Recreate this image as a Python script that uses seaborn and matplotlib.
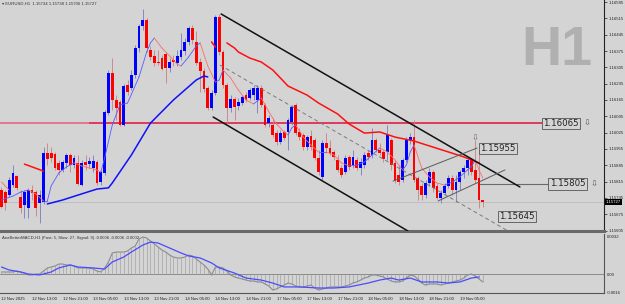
import numpy as np
import pandas as pd
import seaborn as sns
import matplotlib.pyplot as plt

# EURUSD H1 candles, 12 Nov 05:00 .. 19 Nov 11:00 (open, high, low, close)
opens = [1.15779, 1.15770, 1.15757, 1.15800, 1.15839, 1.15749, 1.15715, 1.15702, 1.15779, 1.15770,
         1.15723, 1.15727, 1.15938, 1.15938, 1.15933, 1.15895, 1.15865, 1.15895, 1.15929, 1.15886,
         1.15895, 1.15800, 1.15899, 1.15890, 1.15873, 1.15899, 1.15813, 1.15852, 1.16109, 1.16281,
         1.16165, 1.16156, 1.16058, 1.16229, 1.16216, 1.16272, 1.16388, 1.16482, 1.16508, 1.16380,
         1.16354, 1.16328, 1.16345, 1.16362, 1.16302, 1.16337, 1.16324, 1.16350, 1.16375, 1.16414,
         1.16474, 1.16414, 1.16328, 1.16289, 1.16216, 1.16131, 1.16195, 1.16521, 1.16371, 1.16229,
         1.16131, 1.16169, 1.16139, 1.16152, 1.16186, 1.16174, 1.16186, 1.16165, 1.16216, 1.16144,
         1.16066, 1.16058, 1.16023, 1.15985, 1.16028, 1.16028, 1.16071, 1.16144, 1.16028, 1.16015,
         1.15963, 1.16011, 1.15993, 1.15916, 1.15835, 1.15981, 1.15959, 1.15942, 1.15908, 1.15873,
         1.15856, 1.15921, 1.15886, 1.15908, 1.15873, 1.15886, 1.15938, 1.15929, 1.15993, 1.15951,
         1.15942, 1.15942, 1.15993, 1.15895, 1.15843, 1.15822, 1.15908, 1.15993, 1.16006, 1.15830,
         1.15796, 1.15757, 1.15809, 1.15856, 1.15796, 1.15745, 1.15766, 1.15796, 1.15830, 1.15779,
         1.15813, 1.15856, 1.15873, 1.15908, 1.15865, 1.15830, 1.15734]
highs = [1.15792, 1.15779, 1.15835, 1.15886, 1.15843, 1.15779, 1.15779, 1.15788, 1.15800, 1.15779,
         1.15779, 1.15963, 1.15981, 1.15963, 1.15942, 1.15908, 1.15908, 1.15938, 1.15938, 1.15929,
         1.15929, 1.15908, 1.15929, 1.15921, 1.15929, 1.15908, 1.15865, 1.16122, 1.16294, 1.16345,
         1.16186, 1.16165, 1.16234, 1.16251, 1.16294, 1.16401, 1.16491, 1.16555, 1.16517, 1.16397,
         1.16380, 1.16380, 1.16358, 1.16371, 1.16345, 1.16358, 1.16380, 1.16452, 1.16431, 1.16482,
         1.16487, 1.16461, 1.16345, 1.16302, 1.16225, 1.16208, 1.16530, 1.16534, 1.16380, 1.16238,
         1.16186, 1.16178, 1.16174, 1.16186, 1.16199, 1.16216, 1.16229, 1.16229, 1.16229, 1.16152,
         1.16101, 1.16088, 1.16036, 1.16036, 1.16036, 1.16088, 1.16144, 1.16152, 1.16045, 1.16023,
         1.16015, 1.16036, 1.16002, 1.15951, 1.15993, 1.16023, 1.15993, 1.15951, 1.15929, 1.15886,
         1.15929, 1.15929, 1.15951, 1.15921, 1.15916, 1.15942, 1.15951, 1.16045, 1.16002, 1.15981,
         1.15951, 1.16058, 1.16002, 1.15908, 1.15886, 1.15916, 1.16006, 1.16023, 1.16079, 1.15839,
         1.15809, 1.15822, 1.15873, 1.15865, 1.15809, 1.15779, 1.15809, 1.15843, 1.15843, 1.15843,
         1.15865, 1.15886, 1.15921, 1.15916, 1.15993, 1.15951, 1.15738]
lows = [1.15702, 1.15693, 1.15749, 1.15792, 1.15779, 1.15680, 1.15659, 1.15659, 1.15736, 1.15667,
        1.15637, 1.15719, 1.15886, 1.15899, 1.15865, 1.15843, 1.15856, 1.15873, 1.15856, 1.15873,
        1.15800, 1.15796, 1.15865, 1.15873, 1.15856, 1.15800, 1.15800, 1.15843, 1.16101, 1.16122,
        1.16079, 1.16053, 1.16053, 1.16186, 1.16208, 1.16259, 1.16371, 1.16465, 1.16371, 1.16337,
        1.16311, 1.16315, 1.16294, 1.16238, 1.16285, 1.16311, 1.16311, 1.16337, 1.16358, 1.16401,
        1.16405, 1.16315, 1.16199, 1.16199, 1.16122, 1.16122, 1.16186, 1.16358, 1.16216, 1.16066,
        1.16114, 1.16079, 1.16122, 1.16144, 1.16156, 1.16165, 1.16165, 1.16109, 1.16135, 1.16049,
        1.16049, 1.16006, 1.15972, 1.15976, 1.15993, 1.15951, 1.16058, 1.16015, 1.15993, 1.15951,
        1.15951, 1.15951, 1.15908, 1.15843, 1.15822, 1.15938, 1.15929, 1.15908, 1.15856, 1.15835,
        1.15848, 1.15865, 1.15873, 1.15865, 1.15843, 1.15873, 1.15908, 1.15916, 1.15942, 1.15929,
        1.15899, 1.15908, 1.15865, 1.15809, 1.15800, 1.15813, 1.15899, 1.15976, 1.15813, 1.15736,
        1.15736, 1.15745, 1.15796, 1.15770, 1.15740, 1.15723, 1.15757, 1.15788, 1.15757, 1.15727,
        1.15779, 1.15830, 1.15843, 1.15843, 1.15809, 1.15702, 1.15706]
closes = [1.15706, 1.15723, 1.15822, 1.15852, 1.15788, 1.15702, 1.15770, 1.15779, 1.15766, 1.15702,
          1.15757, 1.15938, 1.15912, 1.15916, 1.15873, 1.15865, 1.15899, 1.15929, 1.15886, 1.15916,
          1.15805, 1.15895, 1.15886, 1.15903, 1.15903, 1.15809, 1.15856, 1.16114, 1.16281, 1.16165,
          1.16131, 1.16058, 1.16225, 1.16199, 1.16272, 1.16388, 1.16482, 1.16508, 1.16388, 1.16350,
          1.16324, 1.16324, 1.16298, 1.16302, 1.16328, 1.16328, 1.16354, 1.16380, 1.16414, 1.16474,
          1.16422, 1.16324, 1.16289, 1.16212, 1.16131, 1.16195, 1.16521, 1.16371, 1.16229, 1.16131,
          1.16169, 1.16135, 1.16156, 1.16178, 1.16165, 1.16208, 1.16216, 1.16216, 1.16144, 1.16058,
          1.16088, 1.16015, 1.15985, 1.16023, 1.16002, 1.16079, 1.16135, 1.16023, 1.16006, 1.15963,
          1.16006, 1.15963, 1.15916, 1.15856, 1.15981, 1.15959, 1.15938, 1.15921, 1.15865, 1.15843,
          1.15916, 1.15878, 1.15921, 1.15873, 1.15899, 1.15929, 1.15921, 1.15993, 1.15951, 1.15938,
          1.15912, 1.16015, 1.15886, 1.15822, 1.15813, 1.15908, 1.15993, 1.16006, 1.15822, 1.15779,
          1.15757, 1.15809, 1.15856, 1.15788, 1.15745, 1.15766, 1.15796, 1.15830, 1.15779, 1.15813,
          1.15856, 1.15873, 1.15908, 1.15856, 1.15822, 1.15736, 1.15727]

# moving averages (bar index, price)
slow_up_idx = [12, 16, 20, 25, 28, 29, 34, 39, 45, 51, 53, 54]
slow_up_val = [1.15719, 1.15736, 1.15757, 1.15783, 1.15788, 1.15809, 1.15929, 1.16066, 1.16165,
               1.16251, 1.16268, 1.16264]
slow_dn_segments = [
    ([6, 11], [1.15890, 1.15860]),
    ([55, 56], [1.16414, 1.16392]),
    ([59, 61, 62, 65, 68, 71, 75, 80, 83, 88, 91, 95, 99, 103, 108, 112, 117, 121, 125],
     [1.16410, 1.16388, 1.16371, 1.16345, 1.16328, 1.16294, 1.16225, 1.16186, 1.16152, 1.16105,
      1.16062, 1.16023, 1.16028, 1.16006, 1.15989, 1.15968, 1.15942, 1.15921, 1.15895]),
]
fast_idx = [0, 3, 5, 7, 9, 11, 12, 13, 15, 17, 19, 21, 23, 25, 26, 27, 29, 31, 33, 36, 38, 39, 40,
            42, 44, 46, 47, 49, 51, 52, 54, 56, 57, 58, 60, 62, 64, 66, 67, 68, 70, 72, 74, 75, 76,
            77, 79, 81, 83, 85, 87, 89, 91, 93, 95, 97, 99, 101, 103, 105, 106, 107, 108, 110, 112,
            114, 116, 118, 120, 122, 123, 124, 125, 126]
fast_val = [1.15736, 1.15753, 1.15770, 1.15779, 1.15762, 1.15732, 1.15732, 1.15796, 1.15852, 1.15878,
            1.15895, 1.15882, 1.15873, 1.15865, 1.15856, 1.15916, 1.16058, 1.16144, 1.16152, 1.16264,
            1.16371, 1.16410, 1.16431, 1.16388, 1.16354, 1.16319, 1.16311, 1.16350, 1.16397, 1.16410,
            1.16311, 1.16242, 1.16251, 1.16294, 1.16259, 1.16208, 1.16165, 1.16148, 1.16161, 1.16174,
            1.16114, 1.16062, 1.16028, 1.16015, 1.16045, 1.16058, 1.16006, 1.15972, 1.15942, 1.15942,
            1.15929, 1.15895, 1.15882, 1.15886, 1.15899, 1.15929, 1.15959, 1.15942, 1.15908, 1.15865,
            1.15886, 1.15942, 1.15972, 1.15873, 1.15835, 1.15809, 1.15800, 1.15813, 1.15835, 1.15865,
            1.15878, 1.15908, 1.15865, 1.15830]

# drawn objects (bar index, price)
channel_top = ([57.5, 135.7], [1.16534, 1.15792])
channel_bottom = ([55.4, 106.4], [1.16092, 1.15603])
channel_mid = ([57.2, 132.3], [1.16315, 1.15606])
rise_top = ([102.5, 124.5], [1.15817, 1.15959])
rise_bottom = ([114.3, 131.8], [1.15732, 1.15865])
level_red = 1.16065
level_grey = 1.15805
last_price = 1.15727

price_ticks = [1.16585, 1.16515, 1.16445, 1.16375, 1.16305, 1.16235, 1.16165, 1.16095, 1.16025,
               1.15955, 1.15885, 1.15815, 1.15745, 1.15675, 1.15605]

# MACD main line for every bar, and signal line vertices
macd = [0.00017, 0.00017, 0.00017, 0.00017, 0.00025, 0.00017, 0.00008, -0.00008, -0.00008, 0.0,
        0.0, 0.00025, 0.00051, 0.00059, 0.00067, 0.00084, 0.00084, 0.00076, 0.00076, 0.00067,
        0.00051, 0.00051, 0.00051, 0.00051, 0.00042, 0.00025, 0.00017, 0.00051, 0.00101, 0.00177,
        0.00185, 0.00185, 0.00185, 0.00194, 0.00219, 0.00236, 0.00295, 0.00312, 0.00303, 0.00278,
        0.00253, 0.00227, 0.00202, 0.00185, 0.00160, 0.00143, 0.00135, 0.00135, 0.00143, 0.00160,
        0.00152, 0.00126, 0.00101, 0.00076, 0.00042, -0.00008, 0.00059, 0.00059, 0.00051, 0.00025,
        -0.00008, -0.00025, -0.00034, -0.00042, -0.00051, -0.00059, -0.00059, -0.00067, -0.00067, -0.00084,
        -0.00101, -0.00135, -0.00126, -0.00109, -0.00093, -0.00076, -0.00084, -0.00101, -0.00109, -0.00109,
        -0.00101, -0.00093, -0.00118, -0.00135, -0.00126, -0.00118, -0.00109, -0.00109, -0.00109, -0.00109,
        -0.00101, -0.00093, -0.00076, -0.00067, -0.00051, -0.00034, -0.00025, -0.00008, -0.00008, -0.00017,
        -0.00025, -0.00042, -0.00059, -0.00067, -0.00067, -0.00059, -0.00034, -0.00008, -0.00017, -0.00042,
        -0.00076, -0.00093, -0.00084, -0.00084, -0.00084, -0.00093, -0.00084, -0.00076, -0.00067, -0.00059,
        -0.00051, -0.00034, -0.00008, 0.0, -0.00017, -0.00042, -0.00067]
signal_idx = [0, 2, 5, 7, 10, 13, 15, 18, 20, 24, 27, 29, 32, 34, 37, 39, 41, 44, 47, 49, 52, 55,
              57, 61, 64, 68, 71, 74, 78, 83, 87, 91, 96, 99, 102, 104, 107, 110, 114, 117, 120,
              123, 125]
signal_val = [0.00059, 0.00034, 0.00017, 0.0, -0.00008, 0.00017, 0.00051, 0.00076, 0.00059, 0.00051,
              0.00042, 0.00101, 0.00143, 0.00185, 0.00244, 0.00269, 0.00261, 0.00219, 0.00177,
              0.00152, 0.00135, 0.00093, 0.00051, 0.00008, -0.00034, -0.00051, -0.00076, -0.00109,
              -0.00109, -0.00118, -0.00118, -0.00109, -0.00076, -0.00051, -0.00034, -0.00051,
              -0.00034, -0.00067, -0.00067, -0.00076, -0.00067, -0.00034, -0.00025]

time_idx = [0, 8, 16, 24, 32, 40, 48, 56, 64, 72, 80, 88, 96, 104, 112, 120]
time_labels = ['12 Nov 2025', '12 Nov 13:00', '12 Nov 21:00', '13 Nov 05:00', '13 Nov 13:00',
               '13 Nov 21:00', '14 Nov 05:00', '14 Nov 13:00', '14 Nov 21:00', '17 Nov 05:00',
               '17 Nov 13:00', '17 Nov 21:00', '18 Nov 05:00', '18 Nov 13:00', '18 Nov 21:00',
               '19 Nov 05:00']

BG = '#d4d4d4'
sns.set_style('white')
plt.rcParams['font.family'] = ['Liberation Sans', 'DejaVu Sans']
SMALL = 3.1

W, H = 625, 304
fig = plt.figure(figsize=(6.25, 3.04), dpi=100, facecolor=BG)
ax = fig.add_axes([0, 1 - 231 / H, 604 / W, 231 / H], facecolor=BG)
axm = fig.add_axes([0, 1 - 293 / H, 604 / W, 59 / H], facecolor=BG, sharex=ax)

x0, dx = 1.5, 3.82
ax.set_xlim((0 - x0) / dx, (604 - x0) / dx)
ax.set_ylim(1.15603, 1.16594)
axm.set_ylim(-0.0016, 0.00337)

df = pd.DataFrame({'o': opens, 'h': highs, 'l': lows, 'c': closes})
df['i'] = np.arange(len(df))
up = df[df.c >= df.o]
dn = df[df.c < df.o]

# reference lines behind candles
ax.axhline(last_price, color='#bcbcbc', lw=0.6, zorder=1)
ax.hlines(level_red, ax.get_xlim()[0], 23, color='#e07088', lw=1.3, zorder=2)
ax.hlines(level_red, 23, 141.5, color='#e0103c', lw=1.1, zorder=2)
ax.hlines(level_grey, 124.7, 143.2, color='#6a6a6a', lw=0.8, zorder=2)

# candles
ax.vlines(up.i, up.l, up.h, color='#7a7ac4', lw=0.6, zorder=3)
ax.vlines(dn.i, dn.l, dn.h, color='#c88080', lw=0.6, zorder=3)
ax.bar(up.i, np.maximum(up.c - up.o, 0.00002), bottom=up.o, width=0.74, color='#0000ff', lw=0, zorder=4)
ax.bar(dn.i, np.maximum(dn.o - dn.c, 0.00002), bottom=dn.c, width=0.74, color='#ff0000', lw=0, zorder=4)

# moving averages
sns.lineplot(x=slow_up_idx, y=slow_up_val, ax=ax, color='#1010ff', lw=1.1, zorder=5)
for xs, ys in slow_dn_segments:
    ax.plot(xs, ys, color='#ff1010', lw=1.1, zorder=5)
for k in range(len(fast_idx) - 1):
    col = '#5a5aff' if fast_val[k + 1] >= fast_val[k] else '#ff6a6a'
    ax.plot(fast_idx[k:k + 2], fast_val[k:k + 2], color=col, lw=0.6, zorder=5)
ax.plot([0, 2], [1.15813, 1.15779], color='#ff6a6a', lw=0.6, zorder=5)

# channels
ax.plot(*channel_top, color='#111111', lw=1.1, zorder=6)
ax.plot(*channel_bottom, color='#111111', lw=1.1, zorder=6)
ax.plot(*channel_mid, color='#7a7a7a', lw=0.7, ls=(0, (4, 3)), zorder=6)
ax.plot(*rise_top, color='#5a5a5a', lw=0.7, zorder=6)
ax.plot(*rise_bottom, color='#5a5a5a', lw=0.7, zorder=6)

box = dict(boxstyle='square,pad=0.15', fc=BG, ec='#555555', lw=0.6)
lab = dict(fontsize=6.2, color='#222222', va='center', ha='left', zorder=8, bbox=box,
           family=['DejaVu Sans'])
ax.text(141.7, level_red, '1.16065', **lab)
ax.text(125.3, 1.15957, '1.15955', **lab)
ax.text(143.5, level_grey, '1.15805', **lab)
ax.text(130.3, 1.15665, '1.15645', **lab)
arrow = dict(fontsize=6, color='#555555', va='center', ha='left', family=['DejaVu Sans'], zorder=8)
ax.text(152.3, level_red, '⇩', **arrow)
ax.text(154.2, level_grey, '⇩', **arrow)
ax.text(124.0, 1.16000, '⇩', fontsize=6, color='#666666', ha='center', va='center',
        family=['DejaVu Sans'], zorder=8)

# watermark and header
ax.text(0.921, 0.78, 'H1', transform=ax.transAxes, fontsize=40, fontweight='bold',
        color='#b0b0b0', ha='center', va='center', zorder=0)
ax.text(0.003, 0.995, '▾ EURUSD,H1  1.15734 1.15738 1.15706 1.15727', transform=ax.transAxes,
        fontsize=SMALL, color='#333333', ha='left', va='top', zorder=9)

# right price scale
ax.yaxis.tick_right()
ax.set_yticks(price_ticks)
ax.set_yticklabels([f'{t:.5f}' for t in price_ticks])
ax.tick_params(axis='y', labelsize=SMALL, length=2, width=0.5, pad=1, colors='#222222', right=True)
ax.tick_params(axis='x', bottom=False, labelbottom=False)
for s in ['top', 'left']:
    ax.spines[s].set_visible(False)
ax.spines['right'].set_color('#222222')
ax.spines['right'].set_linewidth(0.8)
ax.spines['bottom'].set_color('#6a6a6a')
ax.spines['bottom'].set_linewidth(2.2)
ax.text(1.003, last_price, '1.15727', transform=ax.get_yaxis_transform(), fontsize=SMALL,
        color='white', ha='left', va='center', clip_on=False, zorder=10,
        bbox=dict(boxstyle='square,pad=0.2', fc='black', ec='black', lw=0))

# MACD panel
axm.axhline(0, color='#8a8a8a', lw=0.7, zorder=1)
axm.vlines(np.arange(len(macd)), 0, macd, color='#a4a4a4', lw=0.5, zorder=2)
sns.lineplot(x=np.arange(len(macd)), y=macd, ax=axm, color='#8c8c8c', lw=0.8, zorder=3)
sns.lineplot(x=signal_idx, y=signal_val, ax=axm, color='#4a4aff', lw=0.9, zorder=4)
axm.text(0.003, 0.97, 'AnaBetterMACD-H1 (Fast: 5, Slow: 27, Signal: 9) -0.0006 -0.0006 -0.0002',
         transform=axm.transAxes, fontsize=SMALL, color='#333333', ha='left', va='top')
axm.yaxis.tick_right()
axm.set_yticks([0.0032, 0.0, -0.0016])
axm.set_yticklabels(['0.0032', '0.00', '-0.0016'])
axm.tick_params(axis='y', labelsize=SMALL, length=0, pad=2, colors='#222222')
axm.set_xticks(time_idx)
axm.set_xticklabels(time_labels)
axm.tick_params(axis='x', labelsize=SMALL, length=2, width=0.5, pad=0.8, colors='#222222')
for t in axm.get_xticklabels():
    t.set_ha('left')
for s in ['top', 'left']:
    axm.spines[s].set_visible(False)
for s in ['right', 'bottom']:
    axm.spines[s].set_color('#555555')
    axm.spines[s].set_linewidth(0.8)
axm.set_ylabel('')
ax.set_ylabel('')

fig.savefig('out.png', dpi=100, facecolor=BG)
